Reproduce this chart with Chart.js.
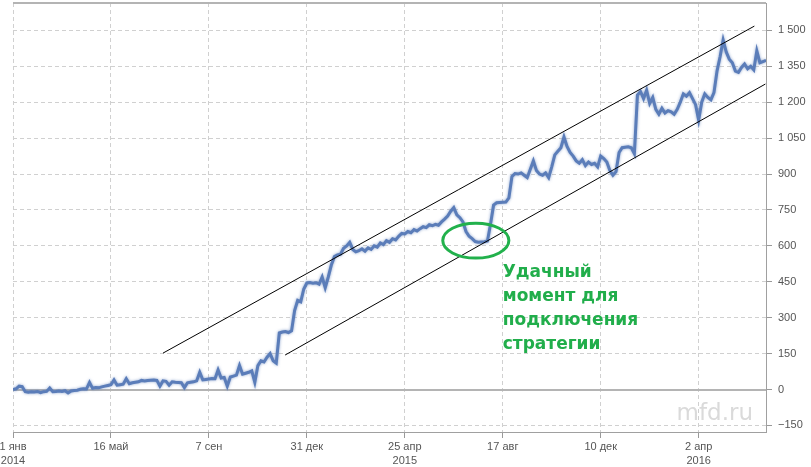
<!DOCTYPE html>
<html>
<head>
<meta charset="utf-8">
<script src="https://cdn.jsdelivr.net/npm/chart.js@4.4.1/dist/chart.umd.min.js"></script>
<style>
    html, body { margin: 0; padding: 0; background: #fff; }
    #wrap { width: 811px; height: 467px; position: relative; }
</style>
</head>
<body>
<div id="wrap"><canvas id="chart"></canvas></div>
<script>
// подписи оси X (одна на каждые 32 точки ряда)
const tickLabels = [['1 янв', '2014'], '16 май', '7 сен', '31 дек', ['25 апр', '2015'], '17 авг', '10 дек', ['2 апр', '2016']];
const pointsPerTick = 32;
// деления оси Y
const yTickValues = [-150, 0, 150, 300, 450, 600, 750, 900, 1050, 1200, 1350, 1500];

// кривая доходности
const equity = [
    0, 3, 14, 12, -9, -11, -9, -10, -8, -13, -9, -8, 6, -9, -8, -6,
    -8, -5, -14, -6, -4, -3, 1, 3, 2, 30, 5, 8, 7, 11, 14, 17,
    20, 40, 18, 20, 22, 45, 24, 28, 30, 32, 38, 36, 38, 39, 40, 38,
    14, 36, 34, 18, 32, 30, 29, 28, 8, 28, 30, 32, 36, 72, 40, 42,
    44, 46, 45, 82, 48, 50, 14, 52, 56, 60, 100, 64, 68, 72, 78, 30,
    100, 120, 115, 135, 150, 120, 110, 236, 240, 242, 238, 245, 330, 372, 366, 420,
    445, 447, 444, 446, 440, 470, 425, 470, 520, 555, 562, 565, 590, 600, 615, 585,
    575, 580, 588, 578, 592, 585, 600, 595, 612, 605, 622, 615, 630, 625, 640, 652,
    650, 660, 655, 668, 662, 672, 680, 676, 688, 684, 690, 686, 700, 712, 725, 745,
    760, 730, 718, 700, 660, 640, 630, 618, 615, 616, 617, 620, 690, 770, 780, 781,
    782, 783, 800, 890, 902, 900, 905, 895, 885, 920, 955, 915, 900, 895, 905, 885,
    930, 980, 995, 1010, 1055, 1015, 990, 975, 955, 945, 960, 935, 950, 940, 945, 930,
    975, 965, 950, 915, 895, 910, 990, 1010, 1012, 1014, 1010, 985, 1230, 1245, 1215, 1250,
    1195, 1220, 1170, 1150, 1175, 1155, 1165, 1160, 1150, 1170, 1200, 1235, 1225, 1240, 1215, 1190,
    1125, 1200, 1235, 1220, 1210, 1240, 1330, 1390, 1460, 1410, 1380, 1365, 1330, 1325, 1345, 1360,
    1340, 1350, 1335, 1415, 1365, 1370, 1375
];

// границы канала (x - номер точки, y - значение)
const upperChannel = [[49, 152], [242.2, 1518]];
const lowerChannel = [[88.9, 144], [245.8, 1276]];

// выделенный участок и подпись
const noteBox = [140.4, 162.0, 549, 695];
const noteAnchor = [160.0, 469];
const noteLines = ['Удачный', 'момент для', 'подключения', 'стратегии'];
const watermark = 'mfd.ru';

const fmt = v => {
    const s = Math.abs(v).toString().replace(/\B(?=(\d{3})+(?!\d))/g, ' ');
    return v < 0 ? '\u2212' + s : s;
};

const extras = {
    id: 'extras',
    beforeDatasetsDraw(chart) {
        const { ctx, chartArea: a, scales: { y } } = chart;
        ctx.save();
        ctx.strokeStyle = '#b4b4b4';
        ctx.lineWidth = 2;
        const y0 = Math.round(y.getPixelForValue(0));
        ctx.beginPath(); ctx.moveTo(a.left, y0); ctx.lineTo(a.right, y0); ctx.stroke();
        ctx.beginPath(); ctx.moveTo(a.left, a.top); ctx.lineTo(a.right, a.top); ctx.stroke();
        ctx.font = '23px "DejaVu Sans"';
        ctx.fillStyle = '#dadada';
        ctx.textAlign = 'right';
        ctx.textBaseline = 'alphabetic';
        ctx.fillText(watermark, a.right - 13, a.bottom - 12);
        ctx.restore();
    },
    beforeDatasetDraw(chart, args) {
        if (args.index !== 2) return;
        const ctx = chart.ctx;
        ctx.save();
        ctx.shadowColor = 'rgba(91,125,185,0.7)';
        ctx.shadowBlur = 3;
    },
    afterDatasetDraw(chart, args) {
        if (args.index === 2) chart.ctx.restore();
    },
    afterDatasetsDraw(chart) {
        const { ctx, scales: { x, y } } = chart;
        const x1 = x.getPixelForValue(noteBox[0]), x2 = x.getPixelForValue(noteBox[1]);
        const y1 = y.getPixelForValue(noteBox[3]), y2 = y.getPixelForValue(noteBox[2]);
        ctx.save();
        ctx.strokeStyle = '#22b14c';
        ctx.lineWidth = 3;
        ctx.beginPath();
        ctx.ellipse((x1 + x2) / 2, (y1 + y2) / 2, (x2 - x1) / 2, (y2 - y1) / 2, 0, 0, Math.PI * 2);
        ctx.stroke();

        ctx.fillStyle = '#21ae4b';
        ctx.font = 'bold 17px "DejaVu Sans"';
        ctx.textAlign = 'left';
        ctx.textBaseline = 'alphabetic';
        const tx = x.getPixelForValue(noteAnchor[0]);
        const ty = y.getPixelForValue(noteAnchor[1]);
        noteLines.forEach((line, i) => ctx.fillText(line, tx, ty + i * 23.8));
        ctx.restore();
    }
};

new Chart(document.getElementById('chart'), {
    type: 'line',
    data: {
        datasets: [
            {
                data: upperChannel.map(([px, py]) => ({ x: px, y: py })),
                borderColor: '#000', borderWidth: 1, pointRadius: 0, order: 0
            },
            {
                data: lowerChannel.map(([px, py]) => ({ x: px, y: py })),
                borderColor: '#000', borderWidth: 1, pointRadius: 0, order: 0
            },
            {
                data: equity.map((v, i) => ({ x: i, y: v })),
                borderColor: '#5b7db9', borderWidth: 3, pointRadius: 0, tension: 0, order: 1
            }
        ]
    },
    options: {
        responsive: true, maintainAspectRatio: false, animation: false,
        layout: { padding: { left: 13, top: 3, right: 0, bottom: 0 } },
        plugins: { legend: { display: false }, tooltip: { enabled: false } },
        scales: {
            x: {
                type: 'linear', min: 0, max: 246,
                afterFit(s) { s.height = 35; s.paddingLeft = 0; s.paddingRight = 0; },
                ticks: {
                    stepSize: pointsPerTick, includeBounds: false, autoSkip: false, maxRotation: 0,
                    padding: 2, color: '#555',
                    font: { family: '"Liberation Sans"', size: 11, lineHeight: 1.3 },
                    callback: v => tickLabels[Math.round(v / pointsPerTick)] ?? ''
                },
                grid: { color: '#d0d0d0', tickColor: '#999', tickLength: 6, tickBorderDash: [] },
                border: { color: '#a0a0a0', width: 1, dash: [4, 3] }
            },
            y: {
                position: 'right', min: -177.5, max: 1614.5,
                afterFit(s) { s.width = 45; s.paddingTop = 0; s.paddingBottom = 0; },
                afterBuildTicks(s) { s.ticks = yTickValues.map(v => ({ value: v })); },
                ticks: {
                    autoSkip: false, padding: 6, color: '#555',
                    font: { family: '"Liberation Sans"', size: 11 },
                    callback: v => fmt(v)
                },
                grid: {
                    color: c => (c.tick && c.tick.value === 0 ? 'rgba(0,0,0,0)' : '#d0d0d0'),
                    tickColor: '#999', tickLength: 6, tickBorderDash: []
                },
                border: { color: '#a0a0a0', width: 1, dash: [4, 3] }
            }
        }
    },
    plugins: [extras]
});
</script>
</body>
</html>
